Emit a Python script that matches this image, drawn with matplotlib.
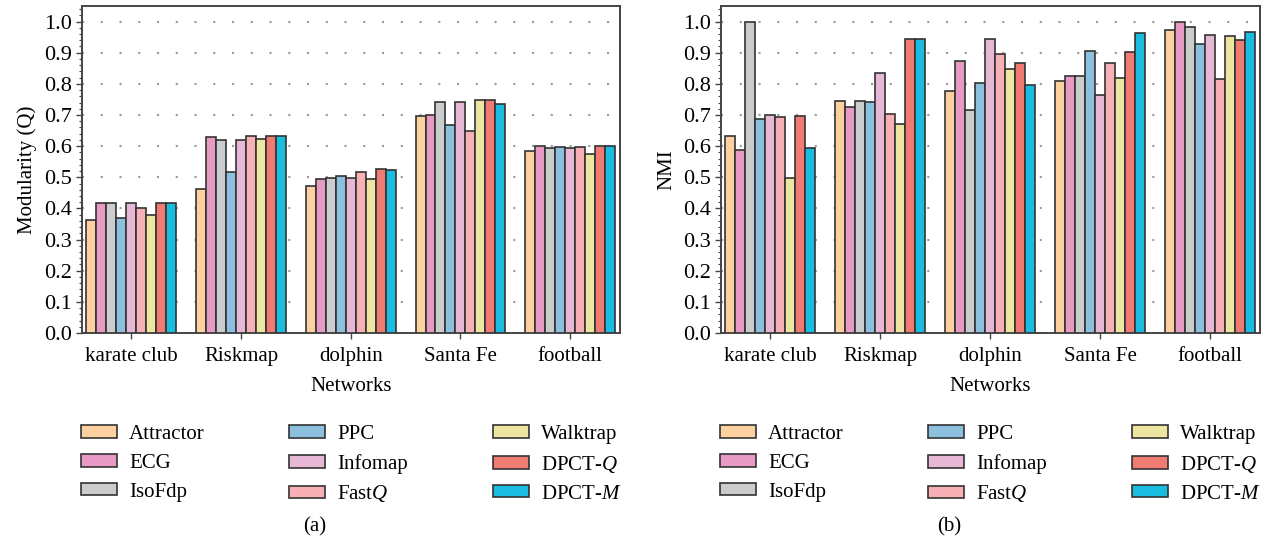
import matplotlib
matplotlib.use("Agg")
import matplotlib.pyplot as plt
import numpy as np
from matplotlib.ticker import MultipleLocator

plt.rcParams['font.family'] = ['Liberation Serif', 'DejaVu Serif']
plt.rcParams['mathtext.fontset'] = 'custom'
plt.rcParams['mathtext.rm'] = 'Liberation Serif'
plt.rcParams['mathtext.it'] = 'Liberation Serif:italic'

networks = ["karate club", "Riskmap", "dolphin", "Santa Fe", "football"]
methods = ["Attractor", "ECG", "IsoFdp", "PPC", "Infomap", "Fast$Q$",
           "Walktrap", "DPCT-$Q$", "DPCT-$M$"]
colors = ["#FDD09F", "#E79AC3", "#CBCCCE", "#8CC0DE", "#E6B8D6", "#F7B0B5",
          "#EDE6A3", "#F07B72", "#1ABDE0"]

# Modularity values: one list per method, over the networks
mod_attractor = [0.363, 0.461, 0.472, 0.697, 0.586]
mod_ecg       = [0.417, 0.629, 0.494, 0.700, 0.599]
mod_isofdp    = [0.419, 0.620, 0.499, 0.741, 0.595]
mod_ppc       = [0.370, 0.517, 0.504, 0.667, 0.598]
mod_infomap   = [0.419, 0.620, 0.499, 0.741, 0.595]
mod_fastq     = [0.401, 0.631, 0.518, 0.648, 0.596]
mod_walktrap  = [0.379, 0.624, 0.494, 0.747, 0.576]
mod_dpctq     = [0.416, 0.631, 0.526, 0.747, 0.600]
mod_dpctm     = [0.416, 0.631, 0.523, 0.736, 0.600]

# NMI values
nmi_attractor = [0.634, 0.746, 0.778, 0.809, 0.974]
nmi_ecg       = [0.587, 0.725, 0.872, 0.825, 1.000]
nmi_isofdp    = [1.000, 0.745, 0.716, 0.825, 0.983]
nmi_ppc       = [0.688, 0.742, 0.803, 0.907, 0.928]
nmi_infomap   = [0.700, 0.835, 0.944, 0.764, 0.957]
nmi_fastq     = [0.694, 0.703, 0.895, 0.868, 0.815]
nmi_walktrap  = [0.499, 0.672, 0.848, 0.818, 0.955]
nmi_dpctq     = [0.697, 0.944, 0.868, 0.903, 0.941]
nmi_dpctm     = [0.594, 0.944, 0.797, 0.962, 0.965]

mod_data = [mod_attractor, mod_ecg, mod_isofdp, mod_ppc, mod_infomap,
            mod_fastq, mod_walktrap, mod_dpctq, mod_dpctm]
nmi_data = [nmi_attractor, nmi_ecg, nmi_isofdp, nmi_ppc, nmi_infomap,
            nmi_fastq, nmi_walktrap, nmi_dpctq, nmi_dpctm]

W, H = 1266, 544
fig = plt.figure(figsize=(W / 100, H / 100), dpi=100)

FS = 15
TFS = 16
edge = "#333333"

def panel(rect, data, ylabel):
    ax = fig.add_axes(rect)
    x = np.arange(len(networks))
    n = len(data)
    bw = 0.0909
    handles = []
    for i, vals in enumerate(data):
        b = ax.bar(x + (i - (n - 1) / 2) * bw, vals, width=bw, color=colors[i],
                   edgecolor=edge, linewidth=1.2, zorder=3, label=methods[i])
        handles.append(b)
    ax.set_xlim(-0.45, 4.455)
    ax.set_ylim(0, 1.05)
    ax.set_xticks(x)
    ax.set_xticklabels(networks, fontsize=FS)
    ax.yaxis.set_minor_locator(MultipleLocator(0.02))
    ticks = np.arange(0, 1.01, 0.1)
    ax.set_yticks(ticks)
    ax.set_yticklabels([f"{v:.1f}" for v in ticks], fontsize=TFS)
    ax.tick_params(axis='y', which='major', direction='out', length=4, width=1.0, color="#444444", pad=3)
    ax.tick_params(axis='y', which='minor', direction='out', length=2, width=0.8, color="#444444")
    ax.tick_params(axis='x', which='major', direction='out', length=4, width=1.0, color="#444444", pad=6)
    ax.grid(axis='y', which='major', linestyle=(0, (1, 8)), linewidth=1.5, color="#9a9a9a", zorder=0)
    for s in ax.spines.values():
        s.set_color("#444444")
        s.set_linewidth(1.4)
    ax.set_xlabel("Networks", fontsize=FS, labelpad=8)
    ax.set_ylabel(ylabel, fontsize=FS, labelpad=5)
    return ax, handles

ax1, h1 = panel([82 / W, (H - 333) / H, (620 - 82) / W, 327 / H], mod_data, "Modularity (Q)")
ax2, h2 = panel([720.5 / W, (H - 333) / H, (1260 - 720.5) / W, 327 / H], nmi_data, "NMI")

leg_kw = dict(ncol=3, frameon=False, fontsize=FS, handlelength=1.73, handleheight=0.55,
              handletextpad=0.58, columnspacing=4.05, labelspacing=0.47,
              borderpad=0, borderaxespad=0, loc='upper left')
fig.legend(h1, methods, bbox_to_anchor=(81 / W, 1 - 425 / H), **leg_kw)
fig.legend(h2, methods, bbox_to_anchor=(720 / W, 1 - 425 / H), **leg_kw)

fig.text(315 / W, 1 - 527 / H, "(a)", ha='center', va='center', fontsize=FS)
fig.text(949 / W, 1 - 527 / H, "(b)", ha='center', va='center', fontsize=FS)

fig.savefig("out.png", dpi=100)
